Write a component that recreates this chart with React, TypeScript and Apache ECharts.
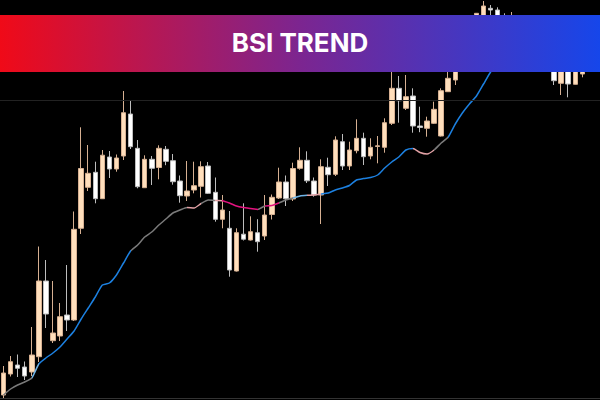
import { useEffect, useRef } from "react";
import * as echarts from "echarts";

// OHLC prices per bar (oldest first)
const opens = [
  5, 26, 35, 33, 28, 43.3, 119, 59.3, 64, 85,
  80, 171.7, 212.7, 227.7, 201.3, 243, 231, 244, 286, 251.7,
  212.3, 240.7, 232.5, 250.7, 239.3, 219, 204, 210, 213.7, 234,
  207.7, 180.7, 171.7, 129, 165.8, 160, 167.3, 164, 185.5, 202,
  218, 201, 231.7, 239.7, 219, 205, 232.7, 225.7, 258.3, 234,
  249.3, 261.7, 244, 253.5, 252.7, 276.7, 311.7, 291.7, 304, 274,
  271.7, 276.7, 264, 308.3, 320, 340, 358, 352, 370, 391.7,
  390, 375, 350, 370, 355, 340, 355, 345, 342, 316.7,
  340, 315.7, 326,
];
const closes = [
  27, 38.3, 31.7, 24, 45, 119, 86, 67, 83.3, 80,
  170.7, 231.5, 226.7, 201.3, 244.8, 231, 242, 287.3, 253.3, 213.3,
  240.7, 231.7, 251.7, 238.7, 218.3, 204.3, 209, 214.3, 233.3, 206.7,
  180.7, 190, 130, 167.3, 160.8, 168.3, 158.3, 185, 202.7, 218,
  201.2, 231.5, 239.7, 219.2, 205, 233.3, 225.3, 260, 234, 250,
  261.7, 243.3, 252.7, 254.2, 277.3, 311.7, 299.3, 303.3, 274, 272.5,
  279, 290.7, 309.3, 321.7, 342, 358, 350, 386.7, 394, 390,
  370, 355, 372, 352, 342, 355, 345, 338, 319.3, 338,
  316, 336, 334,
];
const highs = [
  34, 44, 45.5, 38.5, 73, 153.5, 140, 119, 97, 135,
  188.5, 272.7, 255, 238.3, 250, 249, 245.5, 309, 299.3, 260,
  244.7, 244, 254.7, 254, 246, 224.5, 239, 238.3, 238.7, 238,
  222.5, 205, 189, 171.7, 196.7, 183.7, 180.8, 205, 205.5, 232.3,
  224.5, 237.3, 252.7, 248.7, 222.5, 240.7, 242.3, 263.7, 266, 258.3,
  280.7, 267.3, 261.7, 264, 281.7, 328.3, 324, 325, 311.7, 293.3,
  283.3, 298.3, 311.7, 335, 348, 365, 368, 387, 399, 395,
  392.7, 386.7, 388, 378, 365, 360, 362, 352, 350, 345,
  348, 342, 340,
];
const lows = [
  2, 23.5, 23, 20, 24, 38, 72, 57, 59, 69,
  79, 166, 209, 196.7, 201, 222, 228.3, 240, 251, 211.7,
  212, 215, 220.7, 234.8, 215.3, 197.3, 199, 206.7, 202.5, 206,
  178.3, 171.7, 123.3, 128.5, 159.5, 159.5, 148.3, 160, 180.5, 201,
  194, 199, 230.3, 217, 203.3, 176, 214, 224, 230, 230,
  246.7, 235, 240.7, 236.7, 247.3, 275, 277.3, 290, 267.3, 267.8,
  263.3, 276, 263.5, 308, 315, 336, 342, 348, 366, 378,
  362, 350, 345, 345, 337, 334, 338, 332, 315, 305,
  302.7, 315.5, 322.7,
];

// BSI trend line value per bar
const trend = [
  5, 11, 15, 18, 22, 36, 42, 47, 53, 61,
  69, 81, 92, 103, 115, 117, 125, 137, 149, 155,
  163, 168, 175, 181, 187, 190, 192.5, 192, 196.5, 200,
  199.5, 199.3, 197, 194, 192.5, 191.5, 190.5, 194, 194.5, 197,
  200, 202, 204, 204.7, 205, 206, 207, 210, 212, 214.5,
  220, 221.5, 222.5, 225, 232, 238, 243, 250, 251.5, 247.5,
  246, 250, 257, 263, 276, 287, 296, 304, 316, 328,
  338, 345, 350, 354, 357, 359, 360, 361, 362, 363,
  364, 365, 365,
];

// Trend state by bar range: [from, to, colour]
const GRAY = "#7a7a7a";
const LIGHT_BLUE = "#6fb3e6";
const BLUE = "#1c80e0";
const LIGHT_PINK = "#e3a2a6";
const MAGENTA = "#e3127f";
const trendStates: [number, number, string][] = [
  [0, 4, GRAY],
  [4, 5, LIGHT_BLUE],
  [5, 18, BLUE],
  [18, 26, GRAY],
  [26, 27.5, LIGHT_PINK],
  [27.5, 29.5, GRAY],
  [29.5, 30.5, LIGHT_PINK],
  [30.5, 36, MAGENTA],
  [36, 37, GRAY],
  [37, 38.5, MAGENTA],
  [38.5, 41, GRAY],
  [41, 42.5, LIGHT_BLUE],
  [42.5, 43, BLUE],
  [43, 44.5, LIGHT_PINK],
  [44.5, 57.5, BLUE],
  [57.5, 61, LIGHT_PINK],
  [61, 63, GRAY],
  [63, 100, BLUE],
];

const levelPrice = 300;
const title = "BSI TREND";

// two spare slots keep the plot running to the right edge
const categories = [...opens.map((_, i) => `bar ${i + 1}`), "", " "];

export default function App() {
  const ref = useRef<HTMLDivElement>(null);

  useEffect(() => {
    if (!ref.current) return;
    const chart = echarts.init(ref.current, null, { renderer: "svg" });
    const candles = opens.map((o, i) => [o, closes[i], lows[i], highs[i]]);

    chart.setOption({
      animation: false,
      backgroundColor: "#000000",
      grid: { left: -2.87, right: -4.2, top: 0, bottom: 1.5 },
      xAxis: {
        type: "category",
        data: categories,
        boundaryGap: true,
        axisLine: { show: true, lineStyle: { color: "#333333", width: 1 } },
        axisTick: { show: false },
        axisLabel: { show: false },
        splitLine: { show: false },
      },
      yAxis: {
        type: "value",
        min: 1.5,
        max: 400,
        show: false,
        splitLine: { show: false },
      },
      visualMap: {
        show: false,
        type: "piecewise",
        seriesIndex: 1,
        dimension: 0,
        pieces: trendStates.map(([gte, lt, color]) => ({ gte, lt, color })),
        outOfRange: { color: GRAY },
      },
      series: [
        {
          type: "candlestick",
          data: candles,
          barWidth: 5,
          z: 2,
          itemStyle: {
            color: "#ffdfbc",
            color0: "#ffffff",
            borderColor: "#d6b092",
            borderColor0: "#bdbdbd",
            borderColorDoji: "#d6b092",
            borderWidth: 1,
          },
          markLine: {
            silent: true,
            symbol: "none",
            label: { show: false },
            lineStyle: { color: "#222222", width: 1, type: "solid" },
            data: [{ yAxis: levelPrice }],
          },
        },
        {
          type: "line",
          data: trend,
          smooth: 0.2,
          symbol: "none",
          z: 3,
          lineStyle: { width: 1.5 },
        },
      ],
      graphic: [
        {
          type: "rect",
          z: 100,
          shape: { x: 0, y: 15, width: 600, height: 57 },
          style: {
            fill: new echarts.graphic.LinearGradient(0, 0, 1, 0, [
              { offset: 0, color: "#f00a18" },
              { offset: 0.5, color: "#7c2590" },
              { offset: 1, color: "#1646ea" },
            ]),
          },
        },
        {
          type: "text",
          z: 101,
          x: 300,
          y: 42,
          style: {
            text: title,
            fill: "#ffffff",
            fontFamily: "Inter",
            fontWeight: "bold",
            fontSize: 26,
            align: "center",
            verticalAlign: "middle",
          },
        },
      ],
    });

    return () => chart.dispose();
  }, []);

  return (
    <div
      ref={ref}
      style={{ position: "fixed", left: 0, top: 0, width: 600, height: 400 }}
    />
  );
}
